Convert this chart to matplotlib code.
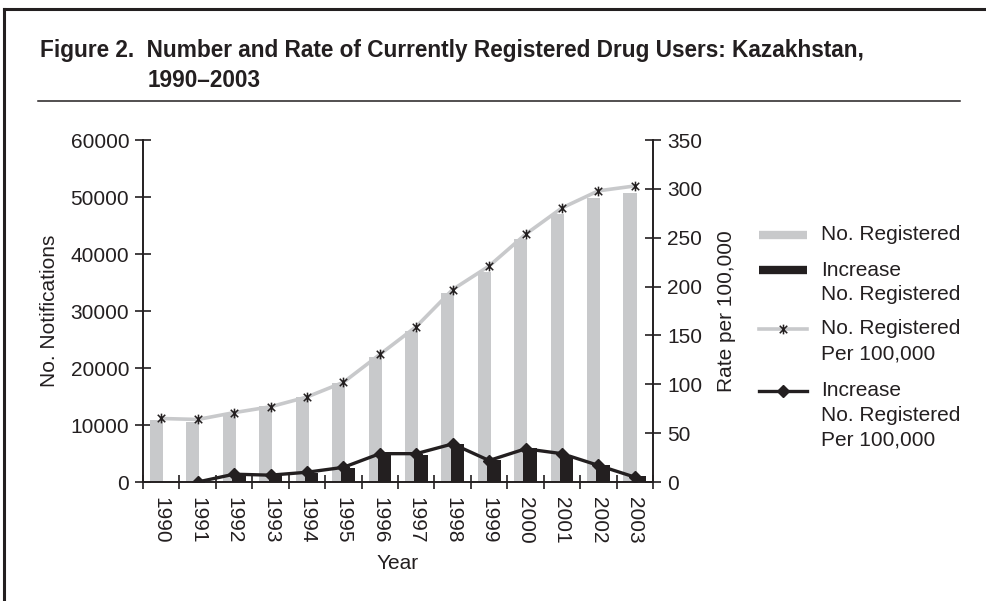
import matplotlib
matplotlib.use('Agg')
import matplotlib.pyplot as plt
from matplotlib.lines import Line2D
from matplotlib.path import Path
import numpy as np

years = ['1990', '1991', '1992', '1993', '1994', '1995', '1996',
         '1997', '1998', '1999', '2000', '2001', '2002', '2003']
registered = [10800, 10500, 12000, 13300, 14900, 17300, 21900,
              26500, 33100, 36900, 42600, 46950, 49900, 50750]
increase = [0, 0, 1500, 1300, 1600, 2500, 4700,
            4700, 6700, 3800, 6000, 4600, 2950, 1100]
rate = [65, 64, 71, 77, 87, 102, 130.5,
        159, 197, 221, 253.5, 280.5, 298, 303]
rate_increase = [np.nan, 0, 8, 7, 10, 15, 29,
                 29, 39, 22, 34, 29, 17, 5]
legend_labels = [['No. Registered'],
                 ['Increase', 'No. Registered'],
                 ['No. Registered', 'Per 100,000'],
                 ['Increase', 'No. Registered', 'Per 100,000']]

GRAY = '#c8c9cb'
DARK = '#231f20'
W, H = 987, 601

plt.rcParams['font.family'] = ['Liberation Sans', 'DejaVu Sans']

fig = plt.figure(figsize=(W / 100, H / 100), dpi=100)
ax = fig.add_axes([0.1449, 0.198, 0.5167, 0.569])
ax2 = ax.twinx()

x = np.arange(len(years))
ax.bar(x - 0.13, registered, width=0.36, color=GRAY, linewidth=0, zorder=2)
ax.bar(x + 0.13, increase, width=0.37, color=DARK, linewidth=0, zorder=3)

# star marker (x with a vertical stroke)
star = Path([(-1, -1), (1, 1), (-1, 1), (1, -1), (0, -1.3), (0, 1.3)],
            [Path.MOVETO, Path.LINETO, Path.MOVETO, Path.LINETO, Path.MOVETO, Path.LINETO])

ax2.plot(x, rate, color=GRAY, lw=2.6, zorder=3)
ax2.plot(x, rate, linestyle='none', marker=star, markersize=7, markeredgecolor=DARK,
         markerfacecolor='none', markeredgewidth=1.1, zorder=4)
ax2.plot(x, rate_increase, color=DARK, lw=2.4, marker='D', markersize=6,
         markerfacecolor=DARK, markeredgecolor=DARK, zorder=5)

ax.set_xlim(-0.5, len(years) - 0.5)
ax.set_ylim(0, 60000)
ax2.set_ylim(0, 350)
ax.set_yticks(np.arange(0, 60001, 10000))
ax2.set_yticks(np.arange(0, 351, 50))

ax.set_xticks(np.arange(-0.5, len(years), 1.0))
ax.set_xticklabels([])
ax.set_xticks(x, minor=True)
ax.set_xticklabels(years, minor=True, rotation=270)
ax.tick_params(axis='x', which='minor', length=0, pad=11, labelsize=15, colors=DARK)
ax.tick_params(axis='x', which='major', direction='inout', length=10, width=1.2, color=DARK)
ax.tick_params(axis='y', direction='inout', length=12, width=1.2, color=DARK,
               labelsize=15, labelcolor=DARK, pad=4)
ax2.tick_params(axis='y', direction='inout', length=12, width=1.2, color=DARK,
                labelsize=15, labelcolor=DARK, pad=4)

for a in (ax, ax2):
    a.spines['top'].set_visible(False)
    for s in ('left', 'right', 'bottom'):
        a.spines[s].set_color(DARK)
        a.spines[s].set_linewidth(1.2)

ax.set_ylabel('No. Notifications', fontsize=15, color=DARK, labelpad=8)
ax2.set_ylabel('Rate per 100,000', fontsize=15, color=DARK, labelpad=11)
ax.set_xlabel('Year', fontsize=15, color=DARK, labelpad=7)

# legend, drawn by hand so each key lines up with the first line of its label
handles = [
    dict(color=GRAY, lw=6, solid_capstyle='butt'),
    dict(color=DARK, lw=6, solid_capstyle='butt'),
    dict(color=GRAY, lw=2.6),
    dict(color=DARK, lw=2.4),
]
markers = [None, None,
           dict(marker=star, markersize=7, markeredgecolor=DARK, markeredgewidth=1.1),
           dict(marker='D', markersize=6, markerfacecolor=DARK, markeredgecolor=DARK)]
entry_top = [235, 270, 329, 391]
line_step = 24.5
hx0, hx1, tx = 759 / W, 807 / W, 821 / W
for lines, y0, hkw, mkw in zip(legend_labels, entry_top, handles, markers):
    fy = 1 - y0 / H
    fig.add_artist(Line2D([hx0, hx1], [fy, fy], **hkw))
    if mkw:
        fig.add_artist(Line2D([(hx0 + hx1) / 2], [fy], linestyle='none', **mkw))
    for i, txt in enumerate(lines):
        fig.text(tx, 1 - (y0 + i * line_step) / H, txt, fontsize=15, color=DARK,
                 va='center', ha='left')

# title block
fig.text(0.0405, 0.905, 'Figure 2.  Number and Rate of Currently Registered Drug Users: Kazakhstan,',
         weight='bold', fontsize=16.3, color=DARK, va='baseline')
fig.text(0.150, 0.855, '1990\u20132003', weight='bold', fontsize=16.3,
         color=DARK, va='baseline')
fig.add_artist(Line2D([0.0385, 0.9726], [0.832, 0.832], color=DARK, lw=1.1))

# frame lines
fig.add_artist(Line2D([0.004, 1.0], [0.985, 0.985], color=DARK, lw=2.2))
fig.add_artist(Line2D([0.004, 0.004], [0.0, 0.985], color=DARK, lw=2.2))

fig.savefig('out.png', dpi=100)
